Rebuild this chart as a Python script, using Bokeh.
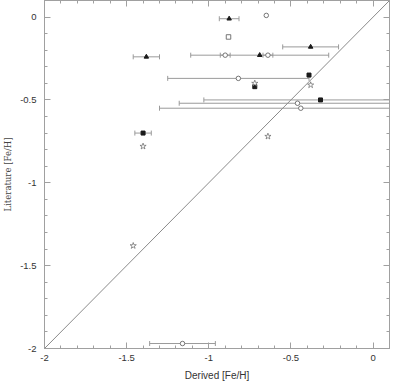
from bokeh.plotting import figure
from bokeh.models import (ColumnDataSource, Whisker, TeeHead, Slope, LinearAxis,
                          SingleIntervalTicker, CustomJSTickFormatter, Range1d)
from bokeh.embed import file_html
from bokeh.resources import INLINE

# ---- data (Derived [Fe/H], Literature [Fe/H], x error) ----
tri_x = [-0.876, -0.38, -1.38, -0.69]
tri_y = [-0.01, -0.18, -0.24, -0.23]
tri_e = [0.06, 0.17, 0.08, 0.42]

circ_x = [-0.65, -0.90, -0.64, -0.82, -0.46, -0.44, -1.16]
circ_y = [0.01, -0.23, -0.23, -0.37, -0.52, -0.55, -1.97]
circ_e = [0.0, 0.03, 0.03, 0.43, 0.72, 0.86, 0.20]

sq_x = [-0.39, -0.72, -0.32, -1.40]
sq_y = [-0.35, -0.42, -0.50, -0.70]
sq_e = [0.0, 0.0, 0.71, 0.05]

osq_x = [-0.88]
osq_y = [-0.12]

star_x = [-0.38, -0.72, -1.40, -0.64, -1.46]
star_y = [-0.41, -0.40, -0.78, -0.72, -1.38]

x_limits = (-2.0, 0.1)
y_limits = (-2.0, 0.1)
tick_interval = 0.5
axis_label_x = "Derived [Fe/H]"
axis_label_y = "Literature [Fe/H]"

GREY = "#a0a0a0"
ERR = "#9a9a9a"
INK = "#1a1a1a"
MID = "#666666"
TXT = "#333333"

p = figure(width=392, height=383,
           x_range=Range1d(*x_limits), y_range=Range1d(*y_limits),
           output_backend="svg", toolbar_location=None,
           min_border_left=37, min_border_right=3,
           min_border_top=0, min_border_bottom=35)
p.grid.visible = False
p.outline_line_color = GREY
p.background_fill_color = "white"
p.border_fill_color = "white"

fmt = CustomJSTickFormatter(code="return String(Math.round(tick*10)/10);")
blank = CustomJSTickFormatter(code="return '';")

def style_axis(ax, labels=True):
    ax.ticker = SingleIntervalTicker(interval=tick_interval, num_minor_ticks=5)
    ax.axis_line_color = GREY
    ax.major_tick_line_color = GREY
    ax.minor_tick_line_color = GREY
    ax.major_tick_in = 6
    ax.major_tick_out = 0
    ax.minor_tick_in = 3
    ax.minor_tick_out = 0
    ax.major_label_text_font = "Liberation Sans"
    ax.major_label_text_font_size = "9.5px"
    ax.major_label_text_color = TXT
    if labels:
        ax.formatter = fmt
    else:
        ax.formatter = blank
        ax.major_label_standoff = 0

xa = p.xaxis[0]
ya = p.yaxis[0]
style_axis(xa)
style_axis(ya)
xa.major_label_standoff = 6
ya.major_label_standoff = 8
xa.axis_label = axis_label_x
xa.axis_label_text_font = "Liberation Sans"
xa.axis_label_text_font_size = "10px"
xa.axis_label_text_font_style = "normal"
xa.axis_label_text_color = TXT
xa.axis_label_standoff = 6
ya.axis_label = axis_label_y
ya.axis_label_text_font = "DejaVu Serif"
ya.axis_label_text_font_size = "8.5px"
ya.axis_label_text_font_style = "normal"
ya.axis_label_text_color = "#444444"
ya.axis_label_standoff = 4

top = LinearAxis()
right = LinearAxis()
style_axis(top, labels=False)
style_axis(right, labels=False)
p.add_layout(top, "above")
p.add_layout(right, "right")

# identity line
p.add_layout(Slope(gradient=1, y_intercept=0, line_color="#8a8a8a", line_width=1))

def add_err(xs, ys, es):
    xx = [x for x, e in zip(xs, es) if e > 0]
    yy = [y for y, e in zip(ys, es) if e > 0]
    ee = [e for e in es if e > 0]
    src = ColumnDataSource(dict(y=yy, lo=[x - e for x, e in zip(xx, ee)],
                                hi=[x + e for x, e in zip(xx, ee)]))
    w = Whisker(source=src, base="y", lower="lo", upper="hi", dimension="width",
                line_color=ERR, line_width=1, level="underlay",
                lower_head=TeeHead(size=5, line_color=ERR, line_width=1),
                upper_head=TeeHead(size=5, line_color=ERR, line_width=1))
    p.add_layout(w)

add_err(tri_x, tri_y, tri_e)
add_err(circ_x, circ_y, circ_e)
add_err(sq_x, sq_y, sq_e)

p.scatter(tri_x, tri_y, marker="triangle", size=4.5, fill_color=INK, line_color=INK)
p.scatter(circ_x, circ_y, marker="circle", size=4.5, fill_color="white",
          line_color=MID, line_width=0.9)
p.scatter(sq_x, sq_y, marker="square", size=4, fill_color=INK, line_color=INK)
p.scatter(osq_x, osq_y, marker="square", size=4.5, fill_color="white",
          line_color=MID, line_width=0.9)
p.scatter(star_x, star_y, marker="star", size=6.5, fill_color="white",
          line_color=MID, line_width=0.7)

open("out.html", "w").write(file_html(p, INLINE))
